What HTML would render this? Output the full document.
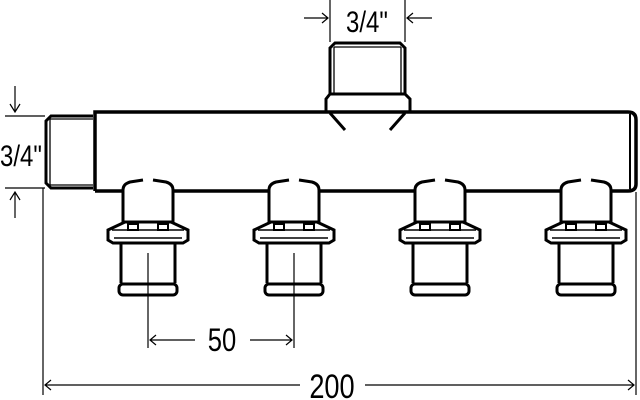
<!DOCTYPE html>
<html><head><style>body{margin:0;background:#fff}svg{display:block}text{font-family:"Liberation Sans",sans-serif;fill:#000}</style></head><body>
<svg width="640" height="400" viewBox="0 0 640 400" xmlns="http://www.w3.org/2000/svg">
<defs>
<g id="out" fill="none" stroke="#000">
<path d="M-25,192 V190 Q-25,184 -18,182 L-5,180 M5,180 L18,182 Q25,184 25,190 V192" stroke-width="3"/>
<path d="M-25,191 V222 M25,191 V222" stroke-width="3"/>
<path d="M-23,222 H23 L40,230 V240 L35,243 H-35 L-40,240 V230 Z" stroke-width="3"/>
<path d="M-36,230 H36 M-34,238 H34" stroke-width="1.5"/>
<rect x="-20" y="224" width="10" height="6" stroke-width="2"/>
<rect x="10" y="224" width="10" height="6" stroke-width="2"/>
<path d="M-27,244 V283 M27,244 V283" stroke-width="3"/>
<rect x="-29" y="284" width="58" height="11" rx="4" stroke-width="3"/>
</g>
</defs>
<g fill="none" stroke="#000">
<path d="M95,191 V112 H628 Q636,112 636,120 V184 Q636,191 628,191 H611 M561,191 H465 M415,191 H319 M269,191 H173 M123,191 H95" stroke-width="3.5"/>
<path d="M630,114 V189" stroke-width="2"/>
<path d="M93,116 H51 L46,121 V183 L51,188 H93" stroke-width="3"/>
<path d="M50,119 V185 M50,119 H93 M50,185 H93" stroke-width="1.3"/>
<path d="M330,94 V48 L335,43 H400 L405,48 V94" stroke-width="3"/>
<path d="M334,47 H401 M334,47 V93 M401,47 V93" stroke-width="1.3"/>
<path d="M326,112 V99 L330,94 H405 L410,99 V112" stroke-width="3"/>
<path d="M330,113 L345,130 M405,113 L390,130" stroke-width="3"/>
</g>
<use href="#out" x="148"/>
<use href="#out" x="294"/>
<use href="#out" x="440"/>
<use href="#out" x="586"/>
<g stroke="#000" stroke-width="1.2" fill="none">
<path d="M5,116 H45 M5,188 H45 M43,188 V395 M636,192 V395"/>
<path d="M15,86 V112 M10,104 L15,112 L20,104 M15,218 V192 M10,200 L15,192 L20,200"/>
<path d="M330,0 V42 M405,0 V42 M304,18 H328 M322,13 L328,18 L322,23 M432,18 H407 M413,13 L407,18 L413,23"/>
<path d="M148,253 V348 M294,253 V348 M150,340 H195 M156,335 L150,340 L156,345 M250,340 H292 M286,335 L292,340 L286,345"/>
<path d="M45,385 H300 M51,380 L45,385 L51,390 M365,385 H634 M628,380 L634,385 L628,390"/>
</g>
<text transform="translate(0,166) scale(0.8,1)" font-size="30">3/4"</text>
<text transform="translate(346,32) scale(0.8,1)" font-size="30">3/4"</text>
<text transform="translate(222,351) scale(0.8,1)" font-size="32" text-anchor="middle">50</text>
<text transform="translate(332,398) scale(0.8,1)" font-size="34" text-anchor="middle">200</text>
</svg>
</body></html>
